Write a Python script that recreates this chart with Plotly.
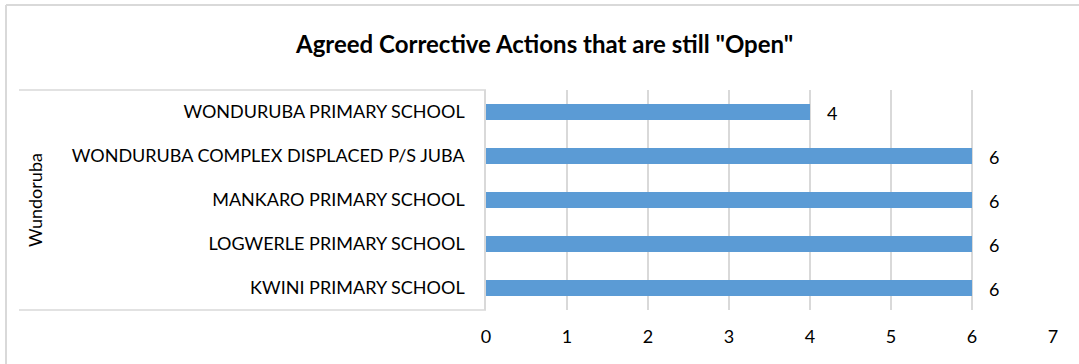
import plotly.graph_objects as go

# Chart data (bottom to top, as in the source chart).
group_name = 'Wundoruba'
schools = [
    'KWINI PRIMARY SCHOOL',
    'LOGWERLE PRIMARY SCHOOL',
    'MANKARO PRIMARY SCHOOL',
    'WONDURUBA COMPLEX DISPLACED P/S JUBA',
    'WONDURUBA PRIMARY SCHOOL',
]
open_actions = [6, 6, 6, 6, 4]
x_ticks = [0, 1, 2, 3, 4, 5, 6, 7]

title_text = 'Agreed Corrective Actions that are still "Open"'

font_family = 'Lato, Open Sans, sans-serif'
grid_color = '#d9d9d9'
bar_color = '#5b9bd5'
label_size = 18

# Plot area in pixels (width 1079, height 364).
left, right, top, bottom = 486, 26, 90, 54
plot_w = 1079 - left - right
plot_h = 364 - top - bottom


def px_x(px):
    return (px - left) / plot_w


def px_y(py):
    return (364 - bottom - py) / plot_h


data = [
    go.Bar(
        x=open_actions,
        y=schools,
        orientation='h',
        width=0.36,
        marker=dict(color=bar_color, line=dict(width=0)),
        showlegend=False,
    )
]

# Data labels to the right of each bar.
annotations = [
    dict(
        x=v, y=s, xref='x', yref='y',
        text=str(v), showarrow=False,
        xanchor='left', yanchor='middle', xshift=15, yshift=-1,
        font=dict(family=font_family, size=label_size, color='#000000'),
    )
    for s, v in zip(schools, open_actions)
]

# Group label of the multi-level category axis.
annotations.append(
    dict(
        x=px_x(35), y=0.5, xref='paper', yref='paper',
        xanchor='center', yanchor='middle',
        text=group_name, textangle=-90, showarrow=False,
        font=dict(family=font_family, size=label_size, color='#000000'),
    )
)

# Title.
annotations.append(
    dict(
        x=px_x(544), y=px_y(43), xref='paper', yref='paper',
        xanchor='center', yanchor='middle',
        text='<b>' + title_text + '</b>', showarrow=False,
        font=dict(family=font_family, size=24, color='#000000'),
    )
)

line = dict(color=grid_color, width=1.5)
shapes = [
    # Category box top and bottom lines.
    dict(type='line', xref='paper', yref='paper', x0=px_x(19), x1=0, y0=1, y1=1, line=line),
    dict(type='line', xref='paper', yref='paper', x0=px_x(19), x1=0, y0=0, y1=0, line=line),
    # Outer chart border (top and left).
    dict(type='line', xref='paper', yref='paper', x0=px_x(6), x1=px_x(1079), y0=px_y(5), y1=px_y(5), line=dict(color=grid_color, width=2)),
    dict(type='line', xref='paper', yref='paper', x0=px_x(6), x1=px_x(6), y0=px_y(5), y1=px_y(364), line=dict(color=grid_color, width=2)),
]

layout = dict(
    width=1079,
    height=364,
    plot_bgcolor='white',
    paper_bgcolor='white',
    margin=dict(l=left, r=right, t=top, b=bottom, pad=0),
    font=dict(family=font_family, size=label_size, color='#000000'),
    bargap=0.64,
    xaxis=dict(
        range=[0, 7],
        tickvals=x_ticks,
        showgrid=True,
        gridcolor=grid_color,
        gridwidth=1.5,
        zeroline=False,
        showline=False,
        ticks='',
        ticklabelstandoff=14,
        tickfont=dict(family=font_family, size=label_size, color='#000000'),
        fixedrange=True,
    ),
    yaxis=dict(
        type='category',
        categoryorder='array',
        categoryarray=schools,
        showgrid=False,
        zeroline=False,
        showline=True,
        linecolor=grid_color,
        linewidth=1.5,
        ticks='',
        ticklabelstandoff=16,
        tickfont=dict(family=font_family, size=label_size, color='#000000'),
        fixedrange=True,
    ),
    annotations=annotations,
    shapes=shapes,
)

fig = go.Figure(data=data, layout=layout)
fig.write_html(
    'out.html',
    config=dict(displayModeBar=False),
    post_script="document.body.style.margin='0';",
)
